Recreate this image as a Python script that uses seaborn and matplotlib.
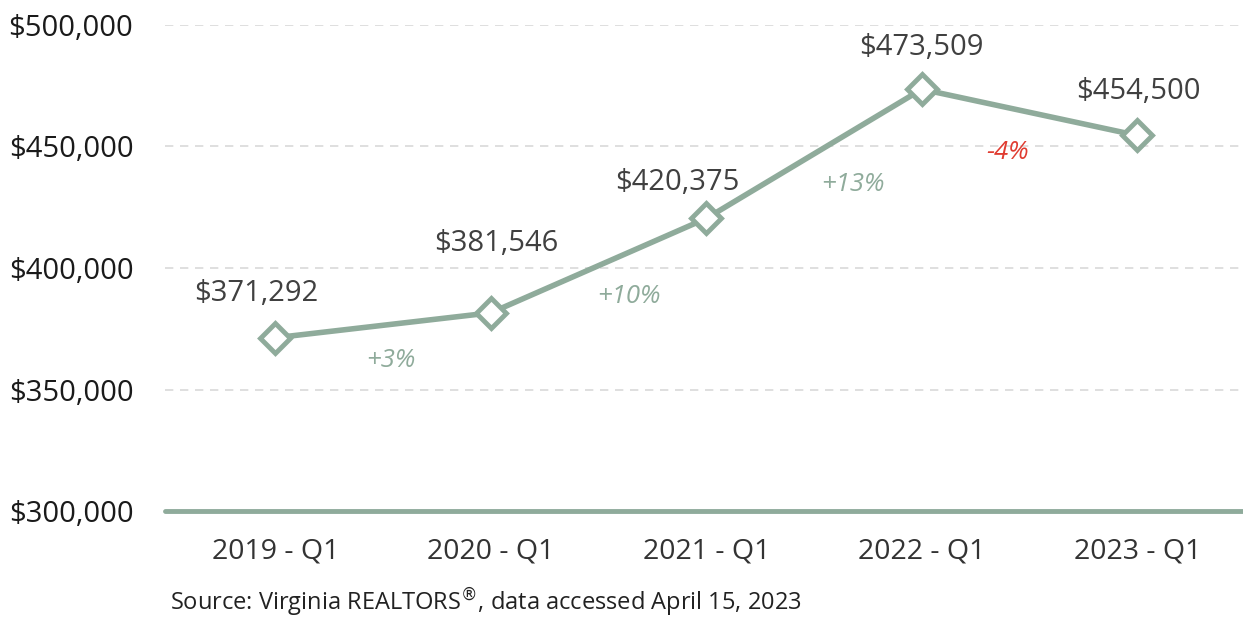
import matplotlib
matplotlib.use("Agg")
import matplotlib.pyplot as plt
import seaborn as sns
import pandas as pd

# data
quarters = ["2019 - Q1", "2020 - Q1", "2021 - Q1", "2022 - Q1", "2023 - Q1"]
prices = [371292, 381546, 420375, 473509, 454500]
changes = ["+3%", "+10%", "+13%", "-4%"]
source = "Source: Virginia REALTORS$^{\\circledR}$, data accessed April 15, 2023"

df = pd.DataFrame({"quarter": quarters, "price": prices})
df["x"] = range(len(df))

sns.set_theme(style="white")
plt.rcParams["font.family"] = ["Open Sans", "DejaVu Sans"]

green = "#8fab9b"
fig = plt.figure(figsize=(12.43, 6.21), dpi=100)
ax = fig.add_axes([0.133, 0.177, 0.867, 0.783])

sns.lineplot(data=df, x="x", y="price", ax=ax, color=green, linewidth=4,
             marker="D", markersize=15, markerfacecolor="white",
             markeredgecolor=green, markeredgewidth=3.5, zorder=3)

ax.set_xlim(-0.51, 4.49)
ax.set_ylim(300000, 500000)
ax.set_yticks([300000, 350000, 400000, 450000, 500000])
ax.set_yticklabels([f"${v:,.0f}" for v in ax.get_yticks()], fontsize=21, color="#1a1a1a")
ax.set_xticks(df["x"])
ax.set_xticklabels(quarters, fontsize=20.5, color="#333333")
ax.tick_params(axis="y", length=0, pad=23)
ax.tick_params(axis="x", length=0, pad=19)
ax.set_xlabel("")
ax.set_ylabel("")

for v in [350000, 400000, 450000, 500000]:
    ax.axhline(v, color="#d9d9d9", linewidth=1.2, linestyle=(0, (5, 4)), zorder=0)
ax.axhline(300000, color=green, linewidth=3.5, zorder=2, clip_on=False)

for s in ax.spines.values():
    s.set_visible(False)

# value labels (offsets in points)
label_off = [(-14, 32), (4, 50), (-21, 26), (0, 30), (1, 32)]
for (i, row), (dx, dy) in zip(df.iterrows(), label_off):
    ax.annotate(f"${row['price']:,.0f}", (row["x"], row["price"]),
                xytext=(dx, dy), textcoords="offset points",
                ha="center", va="center", fontsize=21, color="#404040")

# percent change labels near segment midpoints
pct_off = [(6, -25), (22, -22), (28, -22), (-16, -29)]
for i, (txt, (dx, dy)) in enumerate(zip(changes, pct_off)):
    mx = (df["x"][i] + df["x"][i + 1]) / 2
    my = (df["price"][i] + df["price"][i + 1]) / 2
    col = "#e03c31" if txt.startswith("-") else green
    ax.annotate(txt, (mx, my), xytext=(dx, dy), textcoords="offset points",
                ha="center", va="center", fontsize=18.5, style="italic", color=col)

fig.text(0.137, 0.004, source, fontsize=17, color="#222222", ha="left", va="bottom")

fig.savefig("out.png", dpi=100)
